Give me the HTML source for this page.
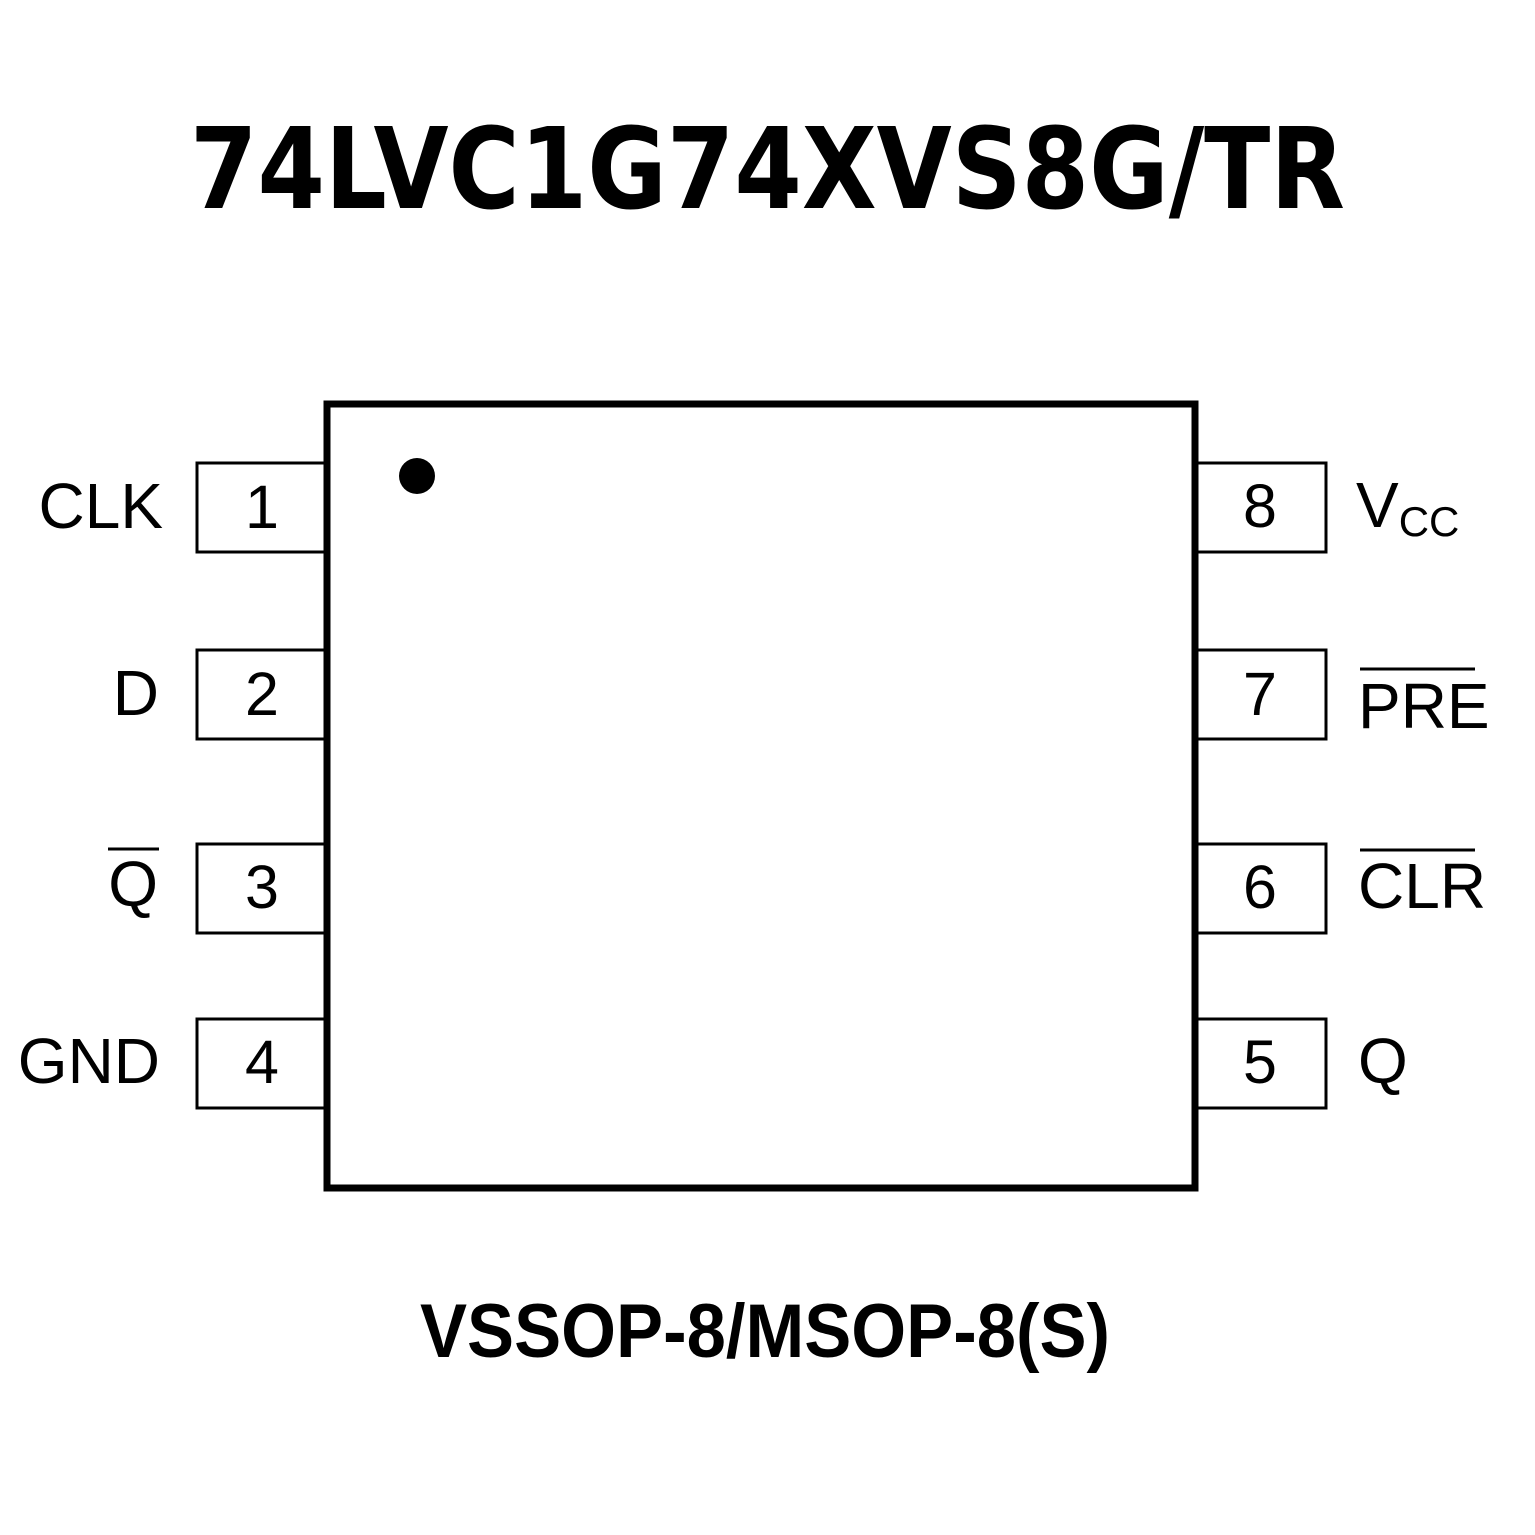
<!DOCTYPE html>
<html><head><meta charset="utf-8"><style>
html,body{margin:0;padding:0;background:#fff;}
svg{display:block;}
text{font-family:"Liberation Sans",Arial,sans-serif;fill:#000;}
</style></head><body>
<svg width="1535" height="1535" viewBox="0 0 1535 1535" xmlns="http://www.w3.org/2000/svg">
<rect width="1535" height="1535" fill="#fff"/>
<text x="190" y="208" font-size="112" font-weight="bold" textLength="1155" lengthAdjust="spacingAndGlyphs" style="font-family:'DejaVu Sans','Liberation Sans',sans-serif">74LVC1G74XVS8G/TR</text>

<g fill="none" stroke="#000" stroke-width="3">
<rect x="197" y="463" width="128" height="89"/>
<rect x="197" y="650" width="128" height="89"/>
<rect x="197" y="844" width="128" height="89"/>
<rect x="197" y="1019" width="128" height="89"/>
<rect x="1197" y="463" width="129" height="89"/>
<rect x="1197" y="650" width="129" height="89"/>
<rect x="1197" y="844" width="129" height="89"/>
<rect x="1197" y="1019" width="129" height="89"/>
</g>
<rect x="327" y="404" width="868" height="784" fill="#fff" stroke="#000" stroke-width="7"/>
<circle cx="417" cy="476" r="18" fill="#000"/>

<g font-size="61" text-anchor="middle">
<text x="262" y="528">1</text>
<text x="262" y="715">2</text>
<text x="262" y="908">3</text>
<text x="262" y="1083">4</text>
<text x="1260" y="527">8</text>
<text x="1260" y="715">7</text>
<text x="1260" y="908">6</text>
<text x="1260" y="1083">5</text>
</g>

<g font-size="64" text-anchor="end">
<text x="163" y="528">CLK</text>
<text x="159" y="715">D</text>
<text x="158" y="906">Q</text>
<text x="160" y="1083">GND</text>
</g>
<line x1="108" y1="849" x2="159" y2="849" stroke="#000" stroke-width="3"/>

<g font-size="64">
<text x="1356" y="527">V<tspan font-size="42" dy="9">CC</tspan></text>
<text x="1358" y="728">PRE</text>
<text x="1358" y="908">CLR</text>
<text x="1358" y="1083">Q</text>
</g>
<line x1="1360" y1="669" x2="1475" y2="669" stroke="#000" stroke-width="3"/>
<line x1="1360" y1="850" x2="1475" y2="850" stroke="#000" stroke-width="3"/>

<text x="420" y="1357" font-size="76" font-weight="bold" textLength="690" lengthAdjust="spacingAndGlyphs">VSSOP-8/MSOP-8(S)</text>
</svg>
</body></html>
